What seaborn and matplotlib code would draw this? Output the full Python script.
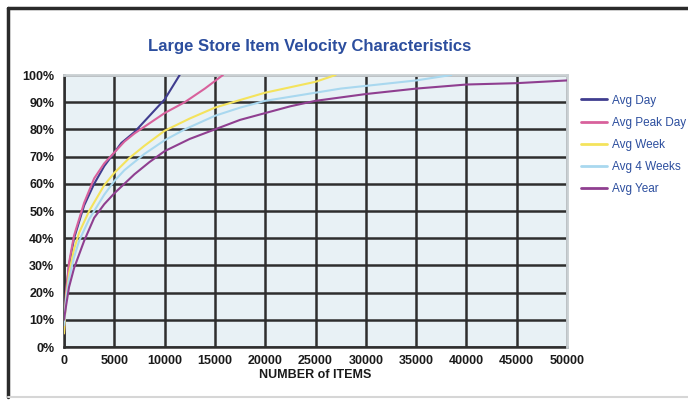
import pandas as pd
import matplotlib
matplotlib.use("Agg")
import matplotlib.pyplot as plt
import seaborn as sns
from matplotlib.lines import Line2D
from matplotlib.ticker import FuncFormatter

# Series (x = number of items, y = cumulative %)
day_x = [0, 200, 500, 1000, 2000, 3000, 4000, 5000, 5700, 7000, 8000, 9000, 10000, 11500]
day_y = [8, 20, 30, 40, 52, 60, 66.5, 71.5, 75, 79, 83, 87, 91, 100]

peak_x = [0, 200, 500, 1000, 2000, 3000, 4000, 5000, 6000, 7000, 8000, 10000, 12000, 14000, 15800]
peak_y = [5, 20, 31, 41, 53, 62, 67.5, 71.5, 75.5, 78.5, 81, 86, 90, 95, 100]

week_x = [0, 200, 500, 1000, 1500, 2500, 4000, 5000, 6500, 8000, 10000, 12500, 15000, 17500,
          20000, 22500, 25000, 27000]
week_y = [5, 18, 27, 36, 42, 50, 59.5, 64, 69.5, 74, 79.5, 84, 88, 90.8, 93.5, 95.5, 97.5, 100]

wk4_x = [0, 200, 500, 1000, 1500, 2500, 4000, 5000, 6000, 8000, 10000, 12000, 15000, 17500,
         20000, 22500, 25000, 27500, 30000, 32500, 35000, 38500]
wk4_y = [8, 17, 25, 33, 39, 47, 56, 61, 65, 71, 76, 80, 85, 88, 90.5, 92, 93.5, 95, 96, 97, 98, 100]

year_x = [0, 200, 500, 1000, 2000, 3000, 4000, 5000, 6000, 7000, 8500, 10000, 12500, 15000,
          17500, 20000, 22500, 25000, 30000, 35000, 40000, 45000, 50000]
year_y = [10, 15, 22, 29, 39, 47.5, 52.5, 56.5, 60, 63.5, 68, 72, 76.5, 80, 83.5, 86, 88.5, 90.5,
          93, 95, 96.5, 97, 98]

series_names = ["Avg Day", "Avg Peak Day", "Avg Week", "Avg 4 Weeks", "Avg Year"]
series_colors = ["#403d8f", "#d8619c", "#f4e35c", "#a9d8ef", "#8f3f90"]
x_ticks = list(range(0, 50001, 5000))
y_ticks = list(range(0, 101, 10))

# build long-form table for seaborn
frames = []
for name, xs, ys in zip(series_names,
                        [day_x, peak_x, week_x, wk4_x, year_x],
                        [day_y, peak_y, week_y, wk4_y, year_y]):
    frames.append(pd.DataFrame({"items": xs, "pct": ys, "series": name}))
df = pd.concat(frames, ignore_index=True)

sns.set_style("white")
plt.rcParams["font.family"] = ["DejaVu Sans Condensed", "Liberation Sans", "DejaVu Sans"]

fig = plt.figure(figsize=(6.88, 4.03), dpi=100)
ax = fig.add_axes([64 / 688, 1 - 347 / 403, 503 / 688, 272 / 403])
ax.set_facecolor("#e8f1f5")

palette = dict(zip(series_names, series_colors))
sns.lineplot(data=df, x="items", y="pct", hue="series", palette=palette,
             hue_order=series_names, linewidth=1.5, ax=ax, legend=False,
             estimator=None, sort=False, zorder=3)

ax.set_xlim(0, 50000)
ax.set_ylim(0, 100)
ax.set_xticks(x_ticks)
ax.set_yticks(y_ticks)
ax.yaxis.set_major_formatter(FuncFormatter(lambda v, p: f"{int(v)}%"))
ax.set_axisbelow(True)
ax.grid(True, color="#2e2e2e", linewidth=1.8)

for side in ["left", "bottom"]:
    ax.spines[side].set_color("#2e2e2e")
    ax.spines[side].set_linewidth(1.8)
for side in ["top", "right"]:
    ax.spines[side].set_color("#c9cfd2")
    ax.spines[side].set_linewidth(2)
    ax.spines[side].set_zorder(2.6)

ax.tick_params(axis="both", which="major", length=4, width=1.5, color="#2e2e2e",
               labelsize=9, pad=3)
ax.tick_params(axis="x", pad=2)
for lab in ax.get_xticklabels() + ax.get_yticklabels():
    lab.set_fontweight("bold")
    lab.set_color("#1a1a1a")

ax.set_xlabel("NUMBER of ITEMS", fontsize=9, fontweight="bold", color="#1a1a1a", labelpad=1)
ax.set_ylabel("")

fig.text(310 / 688, 1 - 47 / 403, "Large Store Item Velocity Characteristics",
         ha="center", va="center", fontsize=12, fontweight="bold", color="#2c4e9e")

handles = [Line2D([0], [0], color=c, linewidth=2) for c in series_colors]
leg = fig.legend(handles, series_names, loc="upper left",
                 bbox_to_anchor=(570 / 688, 1 - 84 / 403), frameon=False,
                 fontsize=8.5, handlelength=2.2, labelspacing=0.85, handletextpad=0.5)
for t in leg.get_texts():
    t.set_color("#2c4e9e")

# outer frame of the picture
fig.add_artist(Line2D([8 / 688, 1], [1 - 8 / 403, 1 - 8 / 403], color="#2a2a2a",
                      linewidth=2.5, transform=fig.transFigure))
fig.add_artist(Line2D([8 / 688, 8 / 688], [1 - 8 / 403, 1 - 397 / 403], color="#2a2a2a",
                      linewidth=2.5, transform=fig.transFigure))
fig.add_artist(Line2D([8 / 688, 1], [1 - 397 / 403, 1 - 397 / 403], color="#d6d6d6",
                      linewidth=1.5, transform=fig.transFigure))

fig.savefig("out.png", dpi=100)
